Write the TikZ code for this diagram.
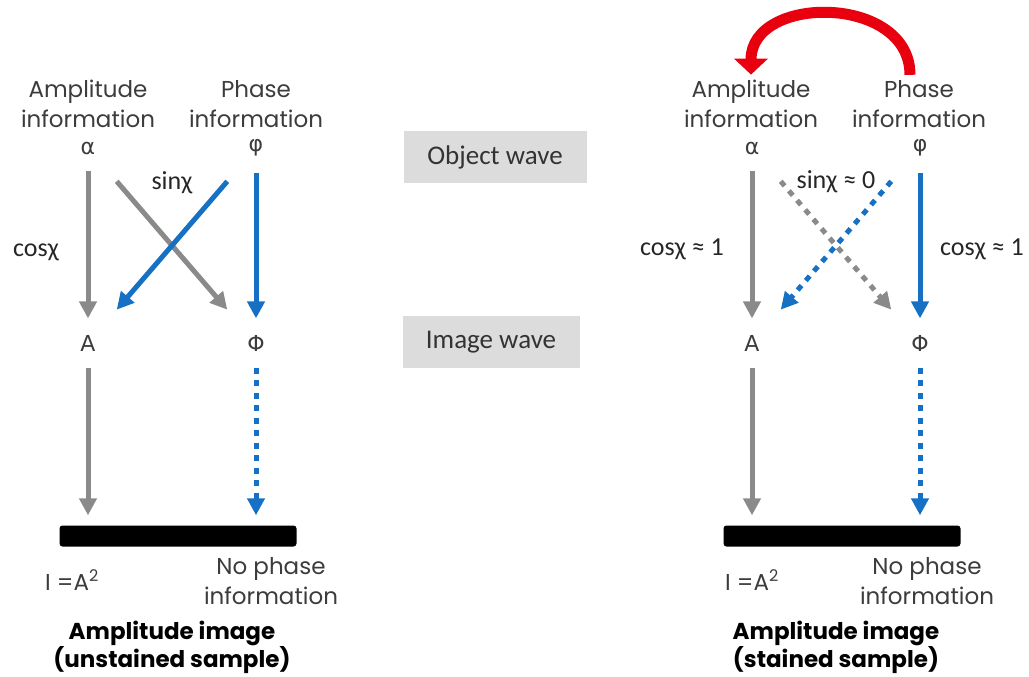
\documentclass[tikz,border=0pt]{standalone}
\usepackage{fontspec}
\setmainfont{Poppins}
\newfontfamily\labelfont{Carlito}
\newfontfamily\greekfont{DejaVu Sans}
\usetikzlibrary{arrows.meta}

\definecolor{arrowgray}{HTML}{8A8A8A}
\definecolor{phaseblue}{HTML}{1670C4}
\definecolor{boxgray}{HTML}{DCDCDC}
\definecolor{textgray}{HTML}{3C3C3C}
\definecolor{swapred}{HTML}{E8000F}

\tikzset{
	wavepicture/.style = {
		x = 1pt,
		y = -1pt,
		font = \fontsize{23}{30}\selectfont,
		text = textgray,
		arrow/.style = {
			draw = arrowgray,
			line width = 5pt,
			-{Triangle[length=17pt, width=17pt]},
			shorten <= 13pt,
			shorten >= 13pt,
		}
	},
	infonode/.style = {
		align = center
	},
	symnode/.style = {
		font = \greekfont\fontsize{22}{24}\selectfont
	},
	coeff/.style = {
		font = \labelfont\fontsize{26}{30}\selectfont,
		text = black!85
	},
	wavebox/.style = {
		fill = boxgray,
		minimum height = 52pt,
		font = \labelfont\fontsize{27}{30}\selectfont,
		text = black!80
	},
	detector/.style = {
		fill = black,
		rounded corners = 3pt,
		minimum width = 237pt,
		minimum height = 21pt,
		inner sep = 0pt
	},
	caption/.style = {
		align = center,
		font = \bfseries\fontsize{23}{28}\selectfont,
		text = black
	},
	phase-arrow/.style = {
		draw = phaseblue
	},
	dot-arrow/.style = {
		dash pattern = on 6pt off 6.5pt
	},
	cross-arrow/.style = {
		shorten <= 44pt,
		shorten >= 44pt
	},
	swap-arrow/.style = {
		draw = swapred,
		line width = 11pt,
		-{Triangle[length=16pt, width=33pt]}
	}
}

\begin{document}
\begin{tikzpicture}[wavepicture]
	\useasboundingbox (0,0) rectangle (1029,677);

	% unstained sample
	\node[infonode] (ampinfo1) at (88,104) {Amplitude\\information};
	\node[infonode] (phaseinfo1) at (256,104) {Phase\\information};
	\node[symnode] (a1) at (88,148) {α};
	\node[symnode] (p1) at (256,148) {φ};
	\node[symnode] (A1) at (88,343) {A};
	\node[symnode] (P1) at (256,343) {Φ};
	\node[coeff] (sin1) at (172,183) {sinχ};
	\node[coeff] (cos1) at (36,252) {cosχ};
	\node[detector] (bar1) at (178,536) {};
	\node (int1) at (72,580) {I =A\textsuperscript{2}};
	\node[infonode] (nophase1) at (271,581) {No phase\\information};
	\node[caption] (cap1) at (172,647) {Amplitude image\\(unstained sample)};

	% wave boxes
	\node[wavebox, minimum width = 183pt] (objwave) at (495,157) {Object wave};
	\node[wavebox, minimum width = 177pt] (imgwave) at (491,342) {Image wave};

	% stained sample
	\node[infonode] (ampinfo2) at (751,104) {Amplitude\\information};
	\node[infonode] (phaseinfo2) at (919,104) {Phase\\information};
	\node[symnode] (a2) at (752,148) {α};
	\node[symnode] (p2) at (920,148) {φ};
	\node[symnode] (A2) at (752,343) {A};
	\node[symnode] (P2) at (920,343) {Φ};
	\node[coeff] (sin2) at (836,182) {sinχ ≈ 0};
	\node[coeff] (cos2) at (682,249) {cosχ ≈ 1};
	\node[coeff] (cos3) at (982,249) {cosχ ≈ 1};
	\node[detector] (bar2) at (842,536) {};
	\node (int2) at (752,580) {I =A\textsuperscript{2}};
	\node[infonode] (nophase2) at (927,581) {No phase\\information};
	\node[caption] (cap2) at (836,647) {Amplitude image\\(stained sample)};

	\begin{scope}[every path/.style = arrow]
		\path (a1) to (A1);
		\path[phase-arrow] (p1) to (P1);
		\path[cross-arrow] (a1.center) to (P1.center);
		\path[phase-arrow, cross-arrow] (p1.center) to (A1.center);
		\path[shorten >= 10pt] (A1) to (A1 |- bar1.north);
		\path[phase-arrow, dot-arrow, shorten >= 10pt] (P1) to (P1 |- bar1.north);

		\path (a2) to (A2);
		\path[phase-arrow] (p2) to (P2);
		\path[dot-arrow, cross-arrow] (a2.center) to (P2.center);
		\path[phase-arrow, dot-arrow, cross-arrow] (p2.center) to (A2.center);
		\path[shorten >= 10pt] (A2) to (A2 |- bar2.north);
		\path[phase-arrow, dot-arrow, shorten >= 10pt] (P2) to (P2 |- bar2.north);
	\end{scope}

	\path[swap-arrow] ([xshift=-9pt, yshift=2pt]phaseinfo2.north) to[out=90, in=90, looseness=1.3] ([yshift=2pt]ampinfo2.north);
\end{tikzpicture}
\end{document}
